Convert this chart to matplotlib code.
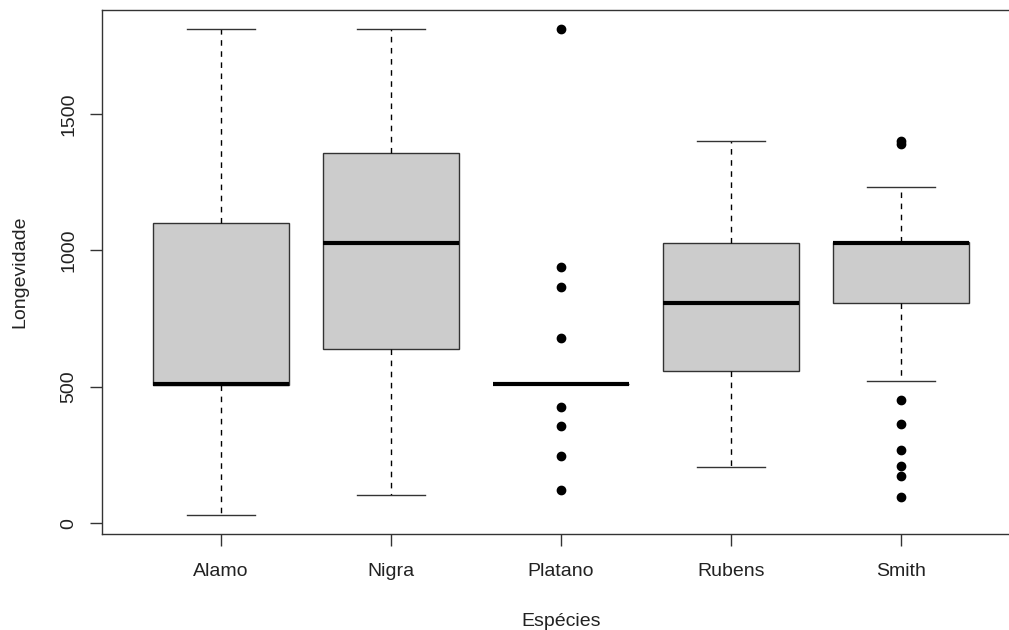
import matplotlib
matplotlib.use("Agg")
import matplotlib.pyplot as plt

categories = ["Alamo", "Nigra", "Platano", "Rubens", "Smith"]
whisker_low = [30, 104, 511, 204, 521]
q1 = [506, 640, 511, 559, 808]
median = [511, 1028, 511, 808, 1028]
q3 = [1100, 1359, 511, 1028, 1031]
whisker_high = [1812, 1812, 511, 1401, 1232]
outliers = [
    [],
    [],
    [1812, 938, 865, 680, 426, 358, 245, 120],
    [],
    [1400, 1392, 453, 363, 269, 211, 174, 95],
]
y_ticks = [0, 500, 1000, 1500]

plt.rcParams['font.family'] = ['Liberation Sans', 'DejaVu Sans']

fig = plt.figure(figsize=(10.09, 6.30), dpi=100)
ax = fig.add_axes([101.7 / 1009, 1 - 534.3 / 630, (1020 - 101.7) / 1009, (534.3 - 9.7) / 630])

stats = []
for i, c in enumerate(categories):
    stats.append(dict(label=c, whislo=whisker_low[i], q1=q1[i], med=median[i],
                      q3=q3[i], whishi=whisker_high[i], fliers=outliers[i]))

edge = '#333333'
ax.bxp(stats, positions=range(1, len(categories) + 1), widths=0.8, capwidths=0.4,
       patch_artist=True, showfliers=True,
       boxprops=dict(facecolor='#CCCCCC', edgecolor=edge, linewidth=1.0),
       medianprops=dict(color='black', linewidth=3.0, solid_capstyle='butt'),
       whiskerprops=dict(color='black', linewidth=1.0, linestyle=(0, (4, 4))),
       capprops=dict(color=edge, linewidth=1.0),
       flierprops=dict(marker='o', markerfacecolor='black', markeredgecolor='black',
                       markersize=6, linestyle='none'))

ax.set_xlim(0.3, 5.7)
ax.set_ylim(-41, 1883)
ax.set_yticks(y_ticks)
ax.set_yticklabels([str(t) for t in y_ticks], rotation=90, va='center')
ax.set_xticks(range(1, len(categories) + 1))
ax.set_xticklabels(categories)

for s in ax.spines.values():
    s.set_color(edge)
    s.set_linewidth(1.0)

ax.tick_params(axis='both', length=8.5, width=1.0, color=edge, labelsize=14,
               labelcolor='#222222')
ax.tick_params(axis='x', pad=12)
ax.tick_params(axis='y', pad=9)

ax.set_xlabel('Espécies', fontsize=14, color='#222222', labelpad=24)
ax.set_ylabel('Longevidade', fontsize=14, color='#222222', labelpad=23)

fig.savefig('out.png', dpi=100)
